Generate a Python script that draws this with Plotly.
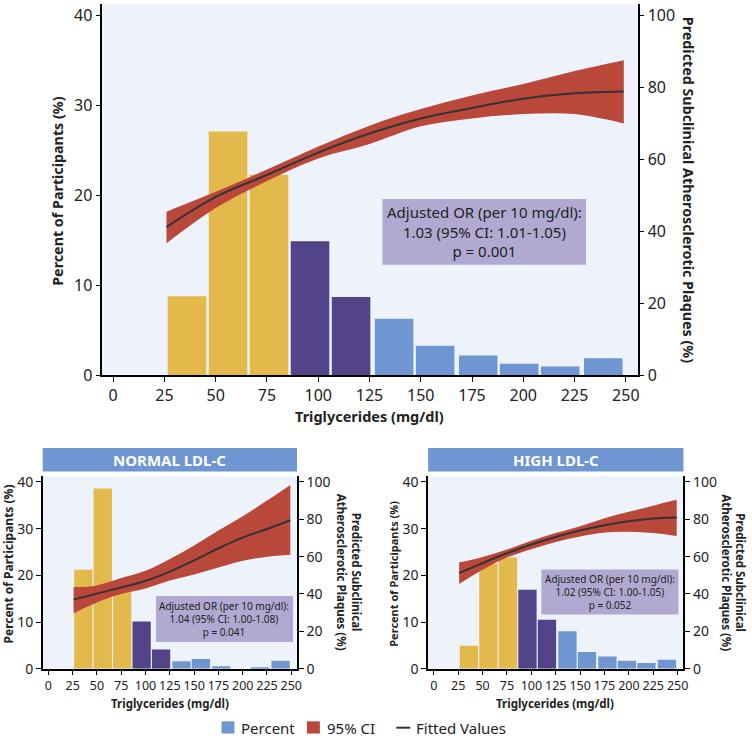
import plotly.graph_objects as go

# bar bins (triglycerides, mg/dl) and colour group of each bin
tg_bins = [36, 56, 76, 96, 116, 137, 157, 178, 198, 218, 239]
bin_group = ["low", "low", "low", "mid", "mid", "high", "high", "high", "high", "high", "high"]

pct_all = [8.8, 27.1, 22.3, 14.9, 8.7, 6.3, 3.3, 2.2, 1.3, 1.0, 1.9]
pct_normal = [21.2, 38.6, 17.0, 10.1, 4.1, 1.6, 2.1, 0.5, 0.0, 0.3, 1.7]
pct_high = [4.9, 22.5, 23.8, 16.9, 10.5, 8.0, 3.6, 2.6, 1.7, 1.2, 1.9]

# fitted curve and 95% CI (predicted plaques, %)
fit_x = [26, 50, 75, 100, 125, 150, 175, 200, 225, 249]
fit_all = [41.2, 49.6, 55.7, 61.9, 67.2, 71.4, 74.3, 76.9, 78.4, 78.9]
lo_all = [36.7, 46.5, 54.0, 60.3, 64.3, 69.2, 71.4, 72.6, 72.6, 70.0]
hi_all = [45.5, 51.0, 57.2, 63.6, 69.4, 74.0, 77.8, 81.0, 84.6, 87.6]

fit_normal = [37.0, 40.2, 43.5, 47.0, 52.0, 58.0, 64.5, 70.2, 74.8, 79.5]
lo_normal = [29.7, 35.5, 40.0, 43.0, 47.2, 50.5, 54.2, 57.8, 60.0, 61.0]
hi_normal = [43.7, 44.6, 48.5, 52.4, 58.7, 66.0, 74.0, 81.6, 90.0, 98.4]

fit_high = [51.2, 56.5, 61.8, 66.5, 70.5, 74.0, 76.8, 79.0, 80.4, 81.0]
lo_high = [45.4, 53.0, 59.5, 64.0, 67.8, 70.8, 72.9, 73.3, 72.6, 71.0]
hi_high = [56.8, 59.8, 63.8, 68.5, 72.6, 76.3, 80.6, 84.0, 87.3, 90.4]

x_ticks = [0, 25, 50, 75, 100, 125, 150, 175, 200, 225, 250]

YELLOW = "#E3B94B"
PURPLE = "#534388"
BLUE = "#7096D1"
RED = "#B9473A"
LINE = "#333333"
BG = "#EEF2FA"
TXT = "#222222"
FONT = "Noto Sans"

W, H = 752, 748

fig = go.Figure()

panels = [
    dict(x="x", y="y", y2="y2", pct=pct_all, fit=fit_all, lo=lo_all, hi=hi_all),
    dict(x="x2", y="y3", y2="y4", pct=pct_normal, fit=fit_normal, lo=lo_normal, hi=hi_normal),
    dict(x="x3", y="y5", y2="y6", pct=pct_high, fit=fit_high, lo=lo_high, hi=hi_high),
]

colors = {"low": YELLOW, "mid": PURPLE, "high": BLUE}

for i, p in enumerate(panels):
    for grp in ["low", "mid", "high"]:
        xs = [b for b, g in zip(tg_bins, bin_group) if g == grp]
        ys = [v for v, g in zip(p["pct"], bin_group) if g == grp]
        fig.add_trace(go.Bar(x=xs, y=ys, width=18.8, marker_color=colors[grp],
                             marker_line_width=0, xaxis=p["x"], yaxis=p["y"],
                             name="Percent", showlegend=False))
    fig.add_trace(go.Scatter(x=fit_x, y=p["lo"], mode="lines", line=dict(width=0, shape="spline"),
                             xaxis=p["x"], yaxis=p["y2"], showlegend=False, hoverinfo="skip"))
    fig.add_trace(go.Scatter(x=fit_x, y=p["hi"], mode="lines", line=dict(width=0, shape="spline"),
                             fill="tonexty", fillcolor=RED, xaxis=p["x"], yaxis=p["y2"],
                             name="95% CI", showlegend=False))
    fig.add_trace(go.Scatter(x=fit_x, y=p["fit"], mode="lines",
                             line=dict(width=2, color=LINE, shape="spline"),
                             xaxis=p["x"], yaxis=p["y2"], name="Fitted Values",
                             showlegend=False))

def px_x(a, b):
    return [a / W, b / W]

def px_y(top, bottom):
    return [1 - bottom / H, 1 - top / H]

axis_common = dict(showline=True, linecolor="black", linewidth=1.5, ticks="outside",
                   ticklen=5, tickcolor="black", showgrid=False, zeroline=False)

top_x = dict(axis_common, domain=px_x(103, 642), range=[-5.3, 255.8], tickvals=x_ticks,
             tickfont=dict(size=16, color=TXT), anchor="y")
bot_x = dict(axis_common, range=[-5.8, 255.9], tickvals=x_ticks, tickangle=0,
             tickfont=dict(size=12.5, color=TXT))

fig.update_layout(
    width=W, height=H,
    margin=dict(l=0, r=0, t=0, b=0),
    paper_bgcolor="white",
    plot_bgcolor=BG,
    font=dict(family=FONT, color=TXT),
    barmode="overlay",
    showlegend=False,
    xaxis=top_x,
    yaxis=dict(axis_common, domain=px_y(0, 379), range=[0, 41.27], tickvals=[0, 10, 20, 30, 40],
               tickfont=dict(size=16, color=TXT), anchor="x"),
    yaxis2=dict(axis_common, overlaying="y", side="right", anchor="x", range=[0, 103.2],
                tickvals=[0, 20, 40, 60, 80, 100], tickfont=dict(size=16, color=TXT)),
    xaxis2=dict(bot_x, domain=px_x(43, 299), anchor="y3"),
    yaxis3=dict(axis_common, domain=px_y(482, 678.3), range=[0, 41.2], tickvals=[0, 10, 20, 30, 40],
                tickfont=dict(size=14, color=TXT), anchor="x2"),
    yaxis4=dict(axis_common, overlaying="y3", side="right", anchor="x2", range=[0, 103.0],
                tickvals=[0, 20, 40, 60, 80, 100], tickfont=dict(size=14, color=TXT)),
    xaxis3=dict(bot_x, domain=px_x(431, 688), anchor="y5"),
    yaxis5=dict(axis_common, domain=px_y(482, 678.3), range=[0, 41.2], tickvals=[0, 10, 20, 30, 40],
                tickfont=dict(size=14, color=TXT), anchor="x3"),
    yaxis6=dict(axis_common, overlaying="y5", side="right", anchor="x3", range=[0, 103.0],
                tickvals=[0, 20, 40, 60, 80, 100], tickfont=dict(size=14, color=TXT)),
)

# panel headers
for x0, x1, label in [(43, 299, "NORMAL LDL-C"), (431, 688, "HIGH LDL-C")]:
    fig.add_shape(type="rect", xref="paper", yref="paper",
                  x0=x0 / W, x1=x1 / W, y0=1 - 477 / H, y1=1 - 453 / H,
                  fillcolor=BLUE, line=dict(width=0))
    fig.add_annotation(xref="paper", yref="paper", x=(x0 + x1) / 2 / W, y=1 - 465 / H,
                       xanchor="center", yanchor="middle",
                       text="<b>" + label + "</b>", showarrow=False,
                       font=dict(size=15, color="white"))

# OR boxes
or_boxes = [
    (385, 590, 199, 266, 15, "Adjusted OR (per 10 mg/dl):<br>1.03 (95% CI: 1.01-1.05)<br>p = 0.001"),
    (157, 295, 604, 651, 10, "Adjusted OR (per 10 mg/dl):<br>1.04 (95% CI: 1.00-1.08)<br>p = 0.041"),
    (545, 683, 577, 623, 10, "Adjusted OR (per 10 mg/dl):<br>1.02 (95% CI: 1.00-1.05)<br>p = 0.052"),
]
for x0, x1, y0, y1, fs, txt in or_boxes:
    fig.add_shape(type="rect", xref="paper", yref="paper",
                  x0=x0 / W, x1=x1 / W, y0=1 - y1 / H, y1=1 - y0 / H,
                  fillcolor="#B1A9D1", line=dict(width=0))
    fig.add_annotation(xref="paper", yref="paper", x=(x0 + x1) / 2 / W, y=1 - (y0 + y1) / 2 / H,
                       xanchor="center", yanchor="middle",
                       text=txt, showarrow=False, align="center",
                       font=dict(size=fs, color=TXT))

# axis titles
titles = [
    (372, 420, 0, 14.5, "Triglycerides (mg/dl)"),
    (58, 191, -90, 14.3, "Percent of Participants (%)"),
    (693, 190, 90, 14.3, "Predicted Subclinical Atherosclerotic Plaques (%)"),
    (171, 714, 0, 11.5, "Triglycerides (mg/dl)"),
    (9, 571, -90, 12, "Percent of Participants (%)"),
    (351, 580, 90, 11.5, "Predicted Subclinical<br>Atherosclerotic Plaques (%)"),
    (559, 714, 0, 11.5, "Triglycerides (mg/dl)"),
    (396, 581, -90, 11, "Percent of Participants (%)"),
    (738, 580, 90, 11.5, "Predicted Subclinical<br>Atherosclerotic Plaques (%)"),
]
for x, y, ang, fs, txt in titles:
    fig.add_annotation(xref="paper", yref="paper", x=x / W, y=1 - y / H, text="<b>" + txt + "</b>",
                       xanchor="center", yanchor="middle",
                       textangle=ang, showarrow=False, align="center",
                       font=dict(size=fs, color=TXT))

# shared legend at the bottom
LEG_Y = 738.5
for x0, col, label in [(223, BLUE, "Percent"), (309, RED, "95% CI")]:
    fig.add_shape(type="rect", xref="paper", yref="paper",
                  x0=x0 / W, x1=(x0 + 13) / W, y0=1 - (LEG_Y + 6) / H, y1=1 - (LEG_Y - 6.5) / H,
                  fillcolor=col, line=dict(width=0))
    fig.add_annotation(xref="paper", yref="paper", x=(x0 + 18) / W, y=1 - LEG_Y / H,
                       xanchor="left", yanchor="middle", text=label, showarrow=False,
                       font=dict(size=15, color=TXT))
fig.add_shape(type="line", xref="paper", yref="paper", x0=399 / W, x1=413 / W,
              y0=1 - LEG_Y / H, y1=1 - LEG_Y / H, line=dict(color=LINE, width=2))
fig.add_annotation(xref="paper", yref="paper", x=417 / W, y=1 - LEG_Y / H,
                   xanchor="left", yanchor="middle", text="Fitted Values", showarrow=False,
                   font=dict(size=15, color=TXT))

fig.write_html("out.html", config={"displayModeBar": False},
               post_script="document.body.style.margin = '0';")
